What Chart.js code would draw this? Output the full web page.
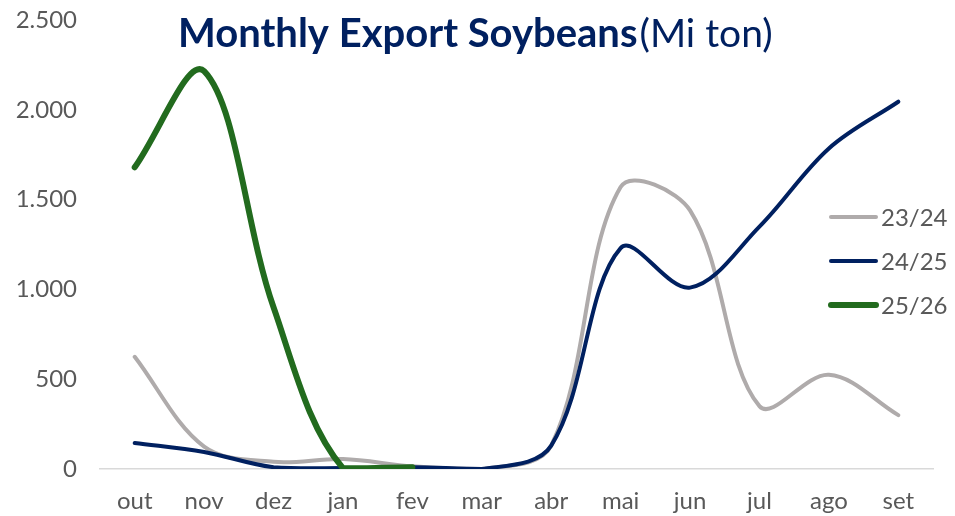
<!DOCTYPE html>
<html>
<head>
<meta charset="utf-8">
<script src="https://cdn.jsdelivr.net/npm/chart.js@4"></script>
<style>
  html, body { margin: 0; padding: 0; background: #fff; }
  #wrap { width: 955px; height: 516px; position: relative; }
</style>
</head>
<body>
<div id="wrap"><canvas id="exportChart"></canvas></div>
<script>
const months = ["out", "nov", "dez", "jan", "fev", "mar", "abr", "mai", "jun", "jul", "ago", "set"];
const seasonLabels = ["23/24", "24/25", "25/26"];
const exports2324 = [625, 125, 40, 55, 15, 0, 130, 1570, 1440, 350, 525, 300];
const exports2425 = [145, 95, 10, 5, 10, 0, 130, 1230, 1010, 1350, 1785, 2045];
const exports2526 = [1680, 2215, 900, 5, 10];
const yTicks = [0, 500, 1000, 1500, 2000, 2500];

const seasonColors = ["#AFABAB", "#002060", "#226B1E"];
const seasonWidths = [4, 4, 6];

const FONT = "Lato, 'Open Sans', sans-serif";

// thousands with a dot, like the pt-BR sheet
function fmt(v) {
    return String(v).replace(/\B(?=(\d{3})+(?!\d))/g, ".");
}

// title sits inside the plot, over the lines
const titlePlugin = {
    id: "soyTitle",
    afterDraw(chart) {
        const ctx = chart.ctx;
        ctx.save();
        ctx.textBaseline = "alphabetic";
        ctx.fillStyle = "#002060";
        ctx.font = "bold 40px " + FONT;
        const boldText = "Monthly Export Soybeans";
        ctx.fillText(boldText, 178, 47);
        const w = ctx.measureText(boldText).width;
        ctx.font = "39px " + FONT;
        ctx.fillText("(Mi ton)", 178 + w + 2, 47);
        ctx.restore();
    },
};

// legend drawn inside the chart area on the right
const sideLegend = {
    id: "sideLegend",
    afterDraw(chart) {
        const ctx = chart.ctx;
        ctx.save();
        ctx.font = "24px " + FONT;
        ctx.textBaseline = "middle";
        chart.data.datasets.forEach((ds, i) => {
            const y = 217 + i * 44;
            ctx.strokeStyle = ds.borderColor;
            ctx.lineWidth = ds.borderWidth;
            ctx.lineCap = "round";
            ctx.beginPath();
            ctx.moveTo(831, y);
            ctx.lineTo(876, y);
            ctx.stroke();
            ctx.fillStyle = "#595959";
            ctx.fillText(ds.label, 881, y + 1);
        });
        ctx.restore();
    },
};

// later seasons are drawn on top (lower order = on top)
const makeSet = (label, data, i) => ({
    label: label,
    data: data,
    order: 3 - i,
    borderColor: seasonColors[i],
    backgroundColor: seasonColors[i],
    borderWidth: seasonWidths[i],
    borderCapStyle: "round",
    pointRadius: 0,
    tension: 0.35,
    fill: false,
});

let exportCtx = document.getElementById("exportChart").getContext("2d");
let exportChart = new Chart(exportCtx, {
    type: "line",
    data: {
        labels: months,
        datasets: [
            makeSet(seasonLabels[0], exports2324, 0),
            makeSet(seasonLabels[1], exports2425, 1),
            makeSet(seasonLabels[2], exports2526, 2),
        ],
    },
    options: {
        responsive: true,
        maintainAspectRatio: false,
        animation: false,
        layout: { padding: { top: 20, right: 22, left: 0, bottom: 0 } },
        plugins: {
            legend: { display: false },
            title: { display: false },
            tooltip: { enabled: false },
        },
        scales: {
            x: {
                offset: true,
                grid: { display: false, drawTicks: false },
                border: { display: true, color: "#D9D9D9", width: 1.5 },
                ticks: {
                    color: "#595959",
                    font: { family: FONT, size: 24 },
                    padding: 18,
                    maxRotation: 0,
                    autoSkip: false,
                },
                afterFit(scale) { scale.height = 47; },
            },
            y: {
                min: 0,
                max: 2500,
                afterBuildTicks(scale) {
                    scale.ticks = yTicks.map((v) => ({ value: v }));
                },
                // hidden tick marks give the label gap without adding top padding
                grid: { display: false, drawTicks: true, tickLength: 23 },
                border: { display: false },
                ticks: {
                    color: "#595959",
                    font: { family: FONT, size: 24 },
                    padding: 0,
                    callback: (v) => fmt(v),
                },
                afterFit(scale) { scale.width = 100; },
            },
        },
    },
    plugins: [titlePlugin, sideLegend],
});
</script>
</body>
</html>
